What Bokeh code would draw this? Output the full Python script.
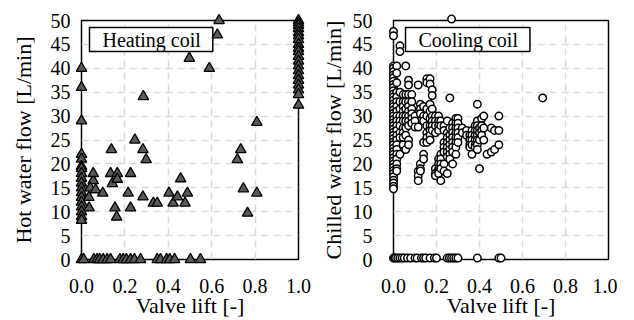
from bokeh.plotting import figure
from bokeh.layouts import row
from bokeh.models import Label, FixedTicker, NumeralTickFormatter
from bokeh.embed import file_html
from bokeh.resources import INLINE

# ---------------- data ----------------
x_ticks = [0.0, 0.2, 0.4, 0.6, 0.8, 1.0]
y_ticks = [0, 5, 10, 15, 20, 25, 30, 35, 40, 45, 50]
x_title = "Valve lift [-]"

# Heating coil (triangles)
heat_col0_flow = [40, 36, 29, 22, 21, 19.5, 19, 18, 17, 16, 15, 14, 13, 12, 11, 10, 9, 8.2]
heat_col1_flow = [50, 49.5, 49, 48.3, 47.5, 46.8, 46, 45, 44.2, 43.5, 42.5, 41.5, 40.5,
                  39.5, 38.5, 37.5, 36.5, 35.5, 34.5, 32.3]
heat_zero_lift = [0.0, 0.01, 0.057, 0.072, 0.084, 0.1, 0.118, 0.134, 0.177, 0.192, 0.207,
                  0.226, 0.244, 0.272, 0.349, 0.364, 0.392, 0.407, 0.429, 0.502, 0.548]
heat_mid_lift = [0.054, 0.04, 0.034, 0.035, 0.065, 0.054, 0.098, 0.138, 0.134, 0.142, 0.165,
                 0.165, 0.154, 0.162, 0.226, 0.215, 0.226, 0.246, 0.283, 0.298, 0.285, 0.283,
                 0.331, 0.349, 0.403, 0.422, 0.442, 0.457, 0.477, 0.488, 0.497, 0.589, 0.626,
                 0.634, 0.718, 0.734, 0.746, 0.765, 0.808, 0.808]
heat_mid_flow = [16.5, 15, 13, 10.8, 14.6, 18, 13.9, 23, 18, 15.9, 18, 16.8, 10.8, 8.9, 18,
                 13.9, 10.8, 25, 23, 20.9, 34.1, 13.1, 11.8, 11.8, 13.9, 11.8, 13.1, 16.9,
                 11.8, 13.9, 42.1, 40, 47, 50, 20.9, 23, 14.8, 9.7, 13.9, 28.7]

# Cooling coil (circles): lift of each column and the flows seen in it
cool_col_lift = [0.0, 0.015, 0.03, 0.045, 0.057, 0.07, 0.085, 0.1, 0.115, 0.125, 0.14,
                 0.155, 0.17, 0.18, 0.195, 0.21, 0.22, 0.235, 0.25, 0.262, 0.275, 0.29,
                 0.3, 0.32, 0.34, 0.355, 0.365, 0.38, 0.39, 0.4, 0.41, 0.42, 0.435,
                 0.455, 0.47, 0.49, 0.694, 0.27]
cool_col_flows = [
    [47.7, 46.8, 40.5, 40, 39.3, 38.6, 38, 37.3, 36.6, 36, 35.3, 34.6, 34, 33.3, 32.6, 32,
     31.3, 30.6, 30, 29.3, 28.6, 28, 27.3, 26.6, 26, 25.3, 24.6, 24, 23.3, 22.6, 22, 21.3,
     20.6, 20, 19.3, 18.6, 18, 17.3, 16.6, 16, 15.3, 14.8],
    [40.5, 39, 37, 35, 34, 33, 32, 31, 30, 29, 28, 27, 26, 25, 24, 23, 22, 21, 20, 19, 18.5],
    [44.7, 43.5, 35, 33, 31.5, 30, 29, 28, 26.5, 25.5, 22],
    [34.5, 33, 32, 31, 30, 29, 27.5, 26.5, 25.5, 24],
    [40.5, 34.5, 33, 31.5, 30, 29, 27.5, 26, 23],
    [37.5, 36.5, 34.5, 33, 32, 31, 30, 29, 28, 25, 24],
    [34.5, 33, 31.5, 30.5, 29.5, 28.5],
    [30, 29, 27.7],
    [36.5, 27.7, 18.5, 17.5, 16.5],
    [32.5, 31.5, 30.5, 20, 19, 18.5],
    [32, 30, 29, 24.5, 22, 21],
    [37.8, 37, 31.5, 30, 28, 26.5, 25.5, 24.5],
    [37.8, 36.7, 32.5, 31, 29.5, 28, 27, 26, 25],
    [35.5, 34.3, 31.5, 30, 29, 28, 27],
    [30, 29, 28, 26.5, 19, 18, 17.5],
    [30, 29, 28, 27, 21, 20, 19, 18.5, 18],
    [29, 28, 22, 21, 20, 19, 16.5],
    [28, 27, 24.5, 23.5, 22.5, 20, 18.5],
    [29, 26.5, 25.5, 24.5, 23.5, 22.5, 21.5, 18],
    [33.8, 27.5, 26, 25, 24, 23, 22, 21],
    [28.5, 27.5, 26.5, 25.5, 24.5, 23.5, 22.5, 20],
    [29.5, 28.5, 27.5, 26.5, 25.5, 24.5, 23.5, 22],
    [29.5, 28.5, 27.5, 26.5, 25.5, 24.5],
    [27.5, 26.5],
    [27, 26],
    [26, 25, 24, 23.5],
    [27, 26, 25, 24, 22],
    [28, 27, 26, 25, 24, 23.5],
    [32.5, 29, 28, 27, 26, 25, 24, 23],
    [27.5, 26.5, 25, 19],
    [29.5, 28, 27, 26],
    [30, 27.5, 25],
    [22],
    [27.5, 22.5],
    [27, 23],
    [30, 27, 24],
    [33.8],
    [50.3],
]
cool_zero_lift = [0.0, 0.005, 0.01, 0.02, 0.03, 0.04, 0.05, 0.065, 0.08, 0.1, 0.11, 0.13,
                  0.14, 0.15, 0.17, 0.19, 0.2, 0.25, 0.26, 0.27, 0.28, 0.29, 0.3, 0.39,
                  0.49, 0.5]
zero_flow_heat = 0.0
zero_flow_cool = 0.3

# ---------------- assemble ----------------
heat_x = ([0.0] * len(heat_col0_flow) + [1.0] * len(heat_col1_flow)
          + heat_zero_lift + heat_mid_lift)
heat_y = (heat_col0_flow + heat_col1_flow
          + [zero_flow_heat] * len(heat_zero_lift) + heat_mid_flow)

cool_x, cool_y = [], []
for lift, flows in zip(cool_col_lift, cool_col_flows):
    cool_x += [lift] * len(flows)
    cool_y += flows
cool_x += cool_zero_lift
cool_y += [zero_flow_cool] * len(cool_zero_lift)

FONT = "Liberation Serif"


def make_fig(ylabel, border_left, frame_w, border_right, tick_standoff, title_standoff):
    p = figure(width=border_left + frame_w + border_right, height=320,
               x_range=(0, 1), y_range=(0, 50),
               min_border_left=border_left, min_border_right=border_right,
               min_border_top=20, min_border_bottom=60,
               output_backend="svg", toolbar_location=None)
    p.outline_line_color = "black"
    p.outline_line_width = 1.5
    p.background_fill_color = "white"
    p.border_fill_color = "white"
    for ax in (p.xaxis[0], p.yaxis[0]):
        ax.axis_line_color = None
        ax.major_tick_line_color = None
        ax.minor_tick_line_color = None
        ax.major_label_text_font = FONT
        ax.major_label_text_font_size = "20px"
        ax.major_label_text_color = "black"
        ax.axis_label_text_font = FONT
        ax.axis_label_text_font_size = "22px"
        ax.axis_label_text_font_style = "normal"
        ax.axis_label_text_color = "black"
    p.xaxis.ticker = FixedTicker(ticks=x_ticks)
    p.yaxis.ticker = FixedTicker(ticks=y_ticks)
    p.xaxis.formatter = NumeralTickFormatter(format="0.0")
    p.xaxis.axis_label = x_title
    p.xaxis.major_label_standoff = 13
    p.xaxis.axis_label_standoff = -3
    p.yaxis.axis_label = ylabel
    p.yaxis.major_label_standoff = tick_standoff
    p.yaxis.axis_label_standoff = title_standoff
    for g in (p.xgrid[0], p.ygrid[0]):
        g.grid_line_color = "#d9d9d9"
        g.grid_line_width = 1.5
        g.grid_line_dash = "7 5"
    return p


def box_label(text, x_off):
    return Label(x=x_off, y=232, x_units="screen", y_units="screen", anchor="top_left",
                 text=text, text_font=FONT, text_font_size="20px", text_color="black",
                 border_line_color="black", border_line_width=1.5,
                 background_fill_color="white",
                 padding=dict(left=13, right=12, top=1, bottom=1))


p1 = make_fig("Hot water flow [L/min]", 81, 217, 19, 5, 12)
p1.scatter(heat_x, heat_y, marker="triangle", size=10.5, fill_color="#595959",
           line_color="black", line_width=1.3, level="overlay")
p1.add_layout(box_label("Heating coil", 8))

p2 = make_fig("Chilled water flow [L/min]", 75, 216, 9, 15, 4)
p2.scatter(cool_x, cool_y, marker="circle", size=7.5, fill_color="white",
           line_color="black", line_width=1.5, level="overlay")
p2.add_layout(box_label("Cooling coil", 12))

layout = row(p1, p2)
open("out.html", "w").write(file_html(layout, INLINE))
